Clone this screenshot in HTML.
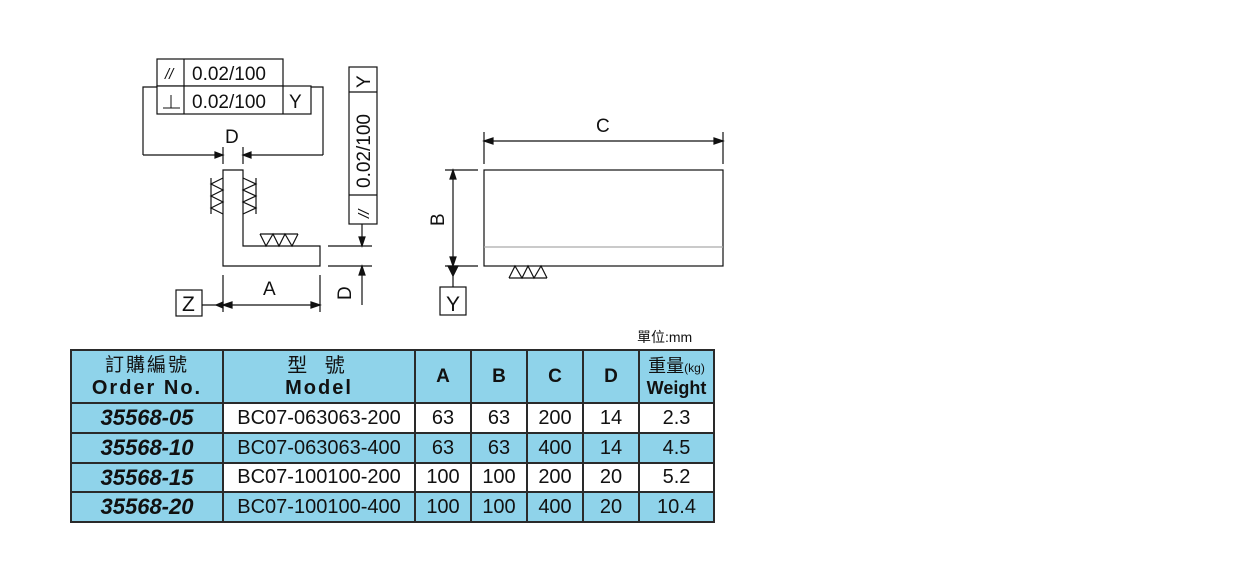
<!DOCTYPE html>
<html><head><meta charset="utf-8"><style>
body{margin:0;background:#fff;width:1240px;height:580px;overflow:hidden;position:relative;font-family:"Liberation Sans","Noto Sans CJK TC",sans-serif}
svg{position:absolute;left:0;top:0}
table{position:absolute;left:70px;top:349px;border-collapse:collapse;width:645px}
td{border:2px solid #2a2a2a;text-align:center;padding:0;font-size:20px;color:#111}
.b{background:#8fd3ea}
.o{font-weight:bold;font-style:italic;font-size:22px;background:#8fd3ea}
.h{font-weight:bold;font-size:19px}
</style></head><body>
<svg width="1240" height="580" viewBox="0 0 1240 580" font-family="Liberation Sans, sans-serif" fill="none" stroke="#111" stroke-width="1.2">
<rect x="157" y="59" width="126" height="27" fill="#fff"/>
<path d="M143,155 V87 H323 V155 M143,155 H215 M251,155 H323"/>
<rect x="157" y="86" width="154" height="28" fill="#fff"/>
<line x1="184" y1="59" x2="184" y2="114"/><line x1="283" y1="86" x2="283" y2="114"/>
<path d="M163,108 H180 M171,108 V95" stroke-width="1"/>
<line x1="223" y1="147" x2="223" y2="164"/><line x1="243" y1="147" x2="243" y2="164"/>
<path d="M223,155 l-8,-3 v6 z M243,155 l8,-3 v6 z" fill="#111"/>
<path d="M223,170 H243 V246 H320 V266 H223 Z"/>
<path d="M223,178 L211,184 L223,190 L211,196 L223,202 L211,208 L223,214 M211,178 V214"/>
<path d="M243,178 L256,184 L243,190 L256,196 L243,202 L256,208 L243,214 M256,178 V214"/>
<path d="M260,234 H298 M260,234 L266,246 L273,234 L279,246 L285,234 L292,246 L298,234"/>
<line x1="328" y1="246" x2="372" y2="246"/><line x1="328" y1="266" x2="372" y2="266"/>
<line x1="362" y1="224" x2="362" y2="246"/><line x1="362" y1="266" x2="362" y2="305"/>
<path d="M362,246 l-3,-9 h6 z M362,266 l-3,9 h6 z" fill="#111"/>
<line x1="223" y1="275" x2="223" y2="312"/><line x1="320" y1="275" x2="320" y2="312"/>
<line x1="202" y1="305" x2="320" y2="305"/>
<path d="M223,305 l9,-3 v6 z M320,305 l-9,-3 v6 z M216,305 l7,-3 v6 z" fill="#111"/>
<rect x="176" y="290" width="26" height="26" fill="#fff"/>
<rect x="349" y="67" width="28" height="157" fill="#fff"/>
<line x1="349" y1="92" x2="377" y2="92"/><line x1="349" y1="195" x2="377" y2="195"/>
<rect x="484" y="170" width="239" height="96"/>
<line x1="484" y1="247" x2="723" y2="247" stroke="#aaa"/>
<line x1="484" y1="132" x2="484" y2="164"/><line x1="723" y1="132" x2="723" y2="164"/>
<line x1="484" y1="141" x2="723" y2="141"/>
<path d="M484,141 l9,-3 v6 z M723,141 l-9,-3 v6 z" fill="#111"/>
<line x1="445" y1="170" x2="478" y2="170"/><line x1="445" y1="266" x2="478" y2="266"/>
<line x1="453" y1="170" x2="453" y2="287"/>
<path d="M453,170 l-3,9 h6 z M453,266 l-3,-9 h6 z M453,276 l-5,-10 h10 z" fill="#111"/>
<rect x="440" y="287" width="26" height="28" fill="#fff"/>
<path d="M509,278 H547 M509,278 L515,266 L522,278 L528,266 L534,278 L541,266 L547,278"/>
<g fill="#111" stroke="none" font-size="19">
<text x="192" y="80">0.02/100</text><text x="192" y="108">0.02/100</text><text x="289" y="108">Y</text>
<text x="165" y="79" font-size="15" font-style="italic">//</text>
<text x="225" y="143">D</text>
<text x="263" y="295">A</text>
<text x="182" y="311" font-size="21">Z</text>
<text x="596" y="132">C</text>
<text x="446" y="311" font-size="21">Y</text>
<text transform="translate(351,300) rotate(-90)">D</text>
<text transform="translate(370,88) rotate(-90)">Y</text>
<text transform="translate(370,188) rotate(-90)">0.02/100</text>
<text transform="translate(369,218) rotate(-90)" font-size="15" font-style="italic">//</text>
<text transform="translate(444,226) rotate(-90)">B</text>
<text x="637" y="342" font-size="14" font-family="Liberation Sans, Noto Sans CJK TC, sans-serif">單位:mm</text>
</g>
</svg>
<table>
<tr style="height:53px" class="b">
<td class="b" style="width:150px;line-height:22px"><span style="font-size:19px;letter-spacing:2px">訂購編號</span><br><b style="letter-spacing:2px">Order No.</b></td>
<td class="b" style="width:190px;line-height:22px"><span style="letter-spacing:6px">型 號</span><br><b style="letter-spacing:2px">Model</b></td>
<td class="b h" style="width:54px">A</td><td class="b h" style="width:54px">B</td><td class="b h" style="width:54px">C</td><td class="b h" style="width:54px">D</td>
<td class="b" style="line-height:20px;font-size:18px">重量<span style="font-size:12px">(kg)</span><br><b style="font-size:18px">Weight</b></td></tr>
<tr style="height:30px"><td class="o">35568-05</td><td>BC07-063063-200</td><td>63</td><td>63</td><td>200</td><td>14</td><td>2.3</td></tr>
<tr style="height:30px" class="b"><td class="o">35568-10</td><td>BC07-063063-400</td><td>63</td><td>63</td><td>400</td><td>14</td><td>4.5</td></tr>
<tr style="height:29px"><td class="o">35568-15</td><td>BC07-100100-200</td><td>100</td><td>100</td><td>200</td><td>20</td><td>5.2</td></tr>
<tr style="height:30px" class="b"><td class="o">35568-20</td><td>BC07-100100-400</td><td>100</td><td>100</td><td>400</td><td>20</td><td>10.4</td></tr>
</table>
</body></html>
